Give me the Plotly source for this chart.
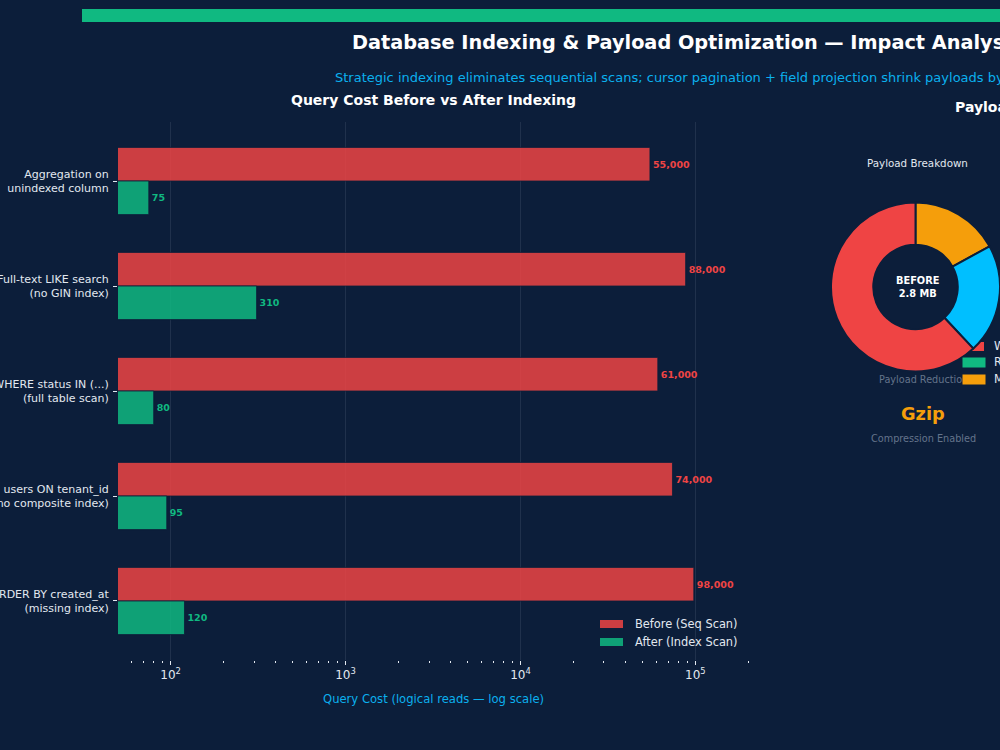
import plotly.graph_objects as go

# ---------------- data ----------------
categories = [
    "Aggregation on<br>unindexed column",
    "Full-text LIKE search<br>(no GIN index)",
    "Filter WHERE status IN (...)<br>(full table scan)",
    "JOIN users ON tenant_id<br>(no composite index)",
    "ORDER BY created_at<br>(missing index)",
]
before_cost = [55000, 88000, 61000, 74000, 98000]
after_cost = [75, 310, 80, 95, 120]

x_tick_vals = [100, 1000, 10000, 100000]
x_tick_text = ["10<sup>2</sup>", "10<sup>3</sup>", "10<sup>4</sup>", "10<sup>5</sup>"]
x_minor_vals = [60, 70, 80, 90,
                200, 300, 400, 500, 600, 700, 800, 900,
                2000, 3000, 4000, 5000, 6000, 7000, 8000, 9000,
                20000, 30000, 40000, 50000, 60000, 70000, 80000, 90000,
                200000]

# donut slices, listed clockwise from 12 o'clock
payload_labels = ["Metadata", "Nested relations", "Wasted / unused fields"]
payload_values = [17, 21, 62]

pie_legend_labels = ["Wasted fields", "Required fields", "Metadata"]

# ---------------- style ----------------
BG = "#0c1e3a"
RED = "#ef4444"
GREEN = "#10b981"
BLUE = "#00bfff"
ORANGE = "#f59e0b"
CYAN = "#0bb0ee"
TXT = "#e2e8f0"
MUTED = "#64748b"
FONT = "DejaVu Sans"
W, H = 1000, 750


def px(x):
    return x / W


def py(y):
    return 1 - y / H


idx = list(range(len(categories)))
off = 0.16
bw = 0.32

fig = go.Figure()
fig.add_trace(go.Bar(
    y=[i - off for i in idx], x=before_cost, orientation="h", width=bw,
    marker=dict(color="rgba(239,68,68,0.85)", line=dict(color=BG, width=0.8)),
    text=before_cost, texttemplate="<b>%{x:,}</b>", textposition="outside",
    textfont=dict(size=9.5, color=RED, family=FONT), cliponaxis=False,
    name="Before (Seq Scan)", showlegend=False,
))
fig.add_trace(go.Bar(
    y=[i + off for i in idx], x=after_cost, orientation="h", width=bw,
    marker=dict(color="rgba(16,185,129,0.85)", line=dict(color=BG, width=0.8)),
    text=after_cost, texttemplate="<b>%{x:,}</b>", textposition="outside",
    textfont=dict(size=9.5, color=GREEN, family=FONT), cliponaxis=False,
    name="After (Index Scan)", showlegend=False,
))

fig.add_trace(go.Pie(
    labels=payload_labels, values=payload_values, hole=0.5, sort=False,
    direction="clockwise", rotation=0, textinfo="none",
    marker=dict(colors=[ORANGE, BLUE, RED], line=dict(color=BG, width=2)),
    domain=dict(x=[0.831, 1.0], y=[py(374), py(200)]),
    showlegend=False, hoverinfo="label+percent",
))

grid_col = "rgba(148,163,184,0.15)"
fig.update_layout(
    width=W, height=H,
    margin=dict(l=0, r=0, t=0, b=0, autoexpand=False),
    paper_bgcolor=BG, plot_bgcolor=BG,
    font=dict(family=FONT, color=TXT),
    barmode="overlay",
    showlegend=False,
    xaxis=dict(
        type="log", domain=[px(118), px(748)],
        range=[1.699, 5.301], automargin=False,
        tickmode="array", tickvals=x_tick_vals, ticktext=x_tick_text,
        tickfont=dict(size=12, color=TXT),
        ticks="outside", ticklen=4, tickcolor=TXT, tickwidth=1,
        showgrid=True, gridcolor=grid_col, gridwidth=1,
        showline=False, zeroline=False,
        minor=dict(tickmode="array", tickvals=x_minor_vals, ticks="outside",
                   ticklen=2, tickcolor=TXT, showgrid=False),
    ),
    yaxis=dict(
        domain=[py(660), py(122)],
        range=[4.562, -0.562], automargin=False,
        tickvals=idx, ticktext=categories,
        tickfont=dict(size=11, color=TXT),
        ticks="outside", ticklen=4, tickcolor=TXT, ticklabelstandoff=2,
        showgrid=False, showline=False, zeroline=False,
    ),
)

shapes = [
    dict(type="rect", xref="paper", yref="paper", x0=px(82), x1=1.0,
         y0=py(22), y1=py(9), fillcolor=GREEN, line=dict(width=0)),
    # bar legend patches
    dict(type="rect", xref="paper", yref="paper", x0=px(600), x1=px(623),
         y0=py(628), y1=py(620), fillcolor="rgba(239,68,68,0.85)", line=dict(width=0)),
    dict(type="rect", xref="paper", yref="paper", x0=px(600), x1=px(623),
         y0=py(646), y1=py(638), fillcolor="rgba(16,185,129,0.85)", line=dict(width=0)),
    # pie legend first patch (behind donut)
    dict(type="rect", xref="paper", yref="paper", x0=px(962), x1=px(984),
         y0=py(351), y1=py(342), fillcolor=RED, line=dict(width=0), layer="below"),
]
fig.update_layout(shapes=shapes)

ann = []


def add_text(text, x, y, size, color, bold=False, xanchor="center"):
    t = f"<b>{text}</b>" if bold else text
    ann.append(dict(text=t, x=px(x), y=py(y), xref="paper", yref="paper",
                    xanchor=xanchor, yanchor="middle", showarrow=False,
                    font=dict(size=size, color=color, family=FONT)))


add_text("Database Indexing &amp; Payload Optimization — Impact Analysis", 350, 42, 19.3, "white", True, "left")
add_text("Strategic indexing eliminates sequential scans; cursor pagination + field projection shrink payloads by 85%",
         333, 77, 13, CYAN, False, "left")
add_text("Query Cost Before vs After Indexing", 433, 100, 14, "white", True)
add_text("Payload Size Reduction", 953, 107, 14, "white", True, "left")
add_text("Query Cost (logical reads — log scale)", 433, 699, 11.6, CYAN)
add_text("Before (Seq Scan)", 633, 624, 11.4, TXT, False, "left")
add_text("After (Index Scan)", 633, 642, 11.4, TXT, False, "left")
add_text("Payload Breakdown", 917, 163, 10.3, TXT)
add_text("BEFORE<br>2.8 MB", 917, 287, 9.8, "white", True)
add_text("Payload Reduction", 923, 379, 9.7, MUTED)
add_text("Gzip", 923, 413, 17.8, ORANGE, True)
add_text("Compression Enabled", 923, 438, 9.7, MUTED)

# pie legend patches drawn over text
for yc, col in [(362, GREEN), (379, ORANGE)]:
    ann.append(dict(text=" ", x=px(962), y=py(yc), xref="paper", yref="paper",
                    xanchor="left", yanchor="middle", showarrow=False,
                    width=22, height=9, bgcolor=col, borderpad=0,
                    font=dict(size=6)))
for yc, lab in zip([346, 362, 379], pie_legend_labels):
    add_text(lab, 992, yc, 11.4, TXT, False, "left")

fig.update_layout(annotations=ann)

fig.write_html("out.html")
